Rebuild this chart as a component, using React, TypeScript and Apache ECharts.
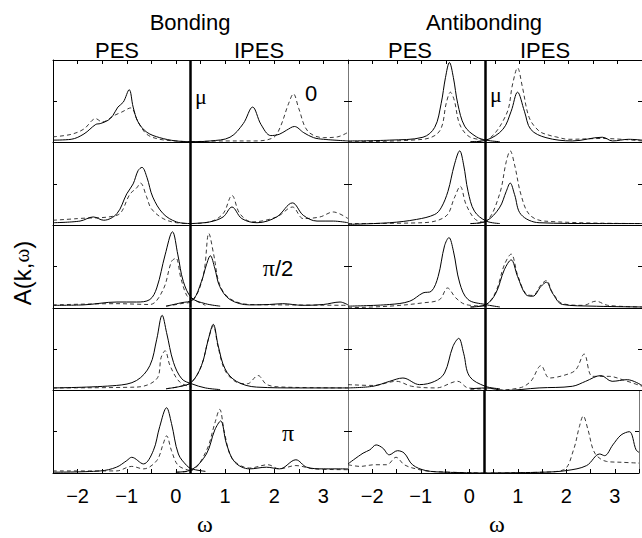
import React, { useEffect, useRef } from "react";
import * as echarts from "echarts";

// ---- axis settings ----
const X_MIN = -2.5;
const X_MAX = 3.5;
const X_STEP = 0.5;
const MU = 0.3;
const TICK_VALUES = [-2, -1, 0, 1, 2, 3];
const ROW_LABELS = ["0", "", "π/2", "", "π"];
const COLUMN_TITLES = ["Bonding", "Antibonding"];

// ---- Bonding, PES (solid / dashed), rows k = 0 ... π ----
const bondingPesSolid: number[][][] = [
  [[-2.5,0.03],[-2.13,0.04],[-1.87,0.105],[-1.63,0.22],[-1.54,0.23],[-1.38,0.27],[-1.28,0.33],[-1.18,0.43],[-1.07,0.49],[-0.95,0.64],[-0.87,0.43],[-0.77,0.25],[-0.59,0.125],[-0.33,0.06],[0.0,0.02],[0.3,0.01],[0.6,0.005]],
  [[-2.5,0.03],[-1.95,0.05],[-1.68,0.1],[-1.47,0.06],[-1.2,0.14],[-1.0,0.38],[-0.87,0.5],[-0.77,0.66],[-0.69,0.7],[-0.59,0.58],[-0.47,0.34],[-0.26,0.14],[0.01,0.04],[0.3,0.02]],
  [[-2.5,0.03],[-1.89,0.035],[-1.2,0.07],[-0.8,0.07],[-0.53,0.1],[-0.39,0.24],[-0.22,0.64],[-0.07,0.92],[0.04,0.64],[0.15,0.32],[0.32,0.12],[0.6,0.05],[0.9,0.02]],
  [[-2.5,0.03],[-1.21,0.06],[-0.8,0.12],[-0.53,0.3],[-0.39,0.62],[-0.28,0.91],[-0.19,0.7],[-0.05,0.34],[0.12,0.14],[0.32,0.08],[0.6,0.03],[0.9,0.01]],
  [[-2.5,0.01],[-1.54,0.025],[-1.21,0.07],[-1.0,0.15],[-0.9,0.19],[-0.66,0.11],[-0.46,0.27],[-0.33,0.56],[-0.19,0.79],[-0.09,0.6],[0.05,0.23],[0.22,0.09],[0.32,0.05],[0.6,0.02]],
];
const bondingPesDashed: number[][][] = [
  [[-2.5,0.07],[-2.13,0.1],[-1.87,0.165],[-1.63,0.29],[-1.5,0.25],[-1.25,0.33],[-1.1,0.37],[-0.92,0.42],[-0.77,0.25],[-0.59,0.1],[-0.33,0.04],[0.0,0.02],[0.3,0.01]],
  [[-2.5,0.06],[-2.0,0.08],[-1.2,0.12],[-0.93,0.38],[-0.8,0.45],[-0.72,0.51],[-0.6,0.35],[-0.5,0.2],[-0.26,0.08],[0.01,0.03],[0.3,0.02]],
  [[-2.5,0.035],[-1.2,0.05],[-0.53,0.04],[-0.26,0.22],[-0.09,0.56],[0.0,0.6],[0.1,0.36],[0.22,0.15],[0.32,0.11],[0.6,0.03]],
  [[-2.5,0.03],[-0.8,0.04],[-0.39,0.14],[-0.3,0.4],[-0.22,0.48],[-0.12,0.3],[0.08,0.1],[0.32,0.04]],
  [[-2.5,0.025],[-1.21,0.025],[-0.9,0.08],[-0.66,0.05],[-0.39,0.15],[-0.26,0.35],[-0.19,0.45],[-0.09,0.27],[0.05,0.09],[0.32,0.025]],
];
// ---- Bonding, IPES ----
const bondingIpesSolid: number[][][] = [
  [[0.3,0.01],[0.7,0.02],[1.1,0.065],[1.37,0.23],[1.56,0.43],[1.73,0.22],[1.93,0.085],[2.1,0.1],[2.25,0.15],[2.41,0.195],[2.6,0.12],[2.8,0.06],[3.0,0.04],[3.5,0.02]],
  [[0.3,0.02],[0.69,0.04],[0.96,0.1],[1.14,0.22],[1.34,0.08],[1.65,0.03],[2.05,0.1],[2.37,0.27],[2.59,0.12],[2.87,0.05],[3.2,0.05],[3.5,0.03]],
  [[-0.2,0.02],[0.1,0.06],[0.35,0.1],[0.52,0.32],[0.62,0.52],[0.7,0.63],[0.79,0.48],[0.89,0.26],[1.1,0.1],[1.5,0.035],[1.9,0.04],[2.17,0.05],[2.58,0.03],[3.0,0.04],[3.34,0.07],[3.5,0.035]],
  [[-0.2,0.02],[0.1,0.05],[0.32,0.1],[0.52,0.3],[0.66,0.62],[0.76,0.8],[0.86,0.54],[1.0,0.26],[1.23,0.11],[1.64,0.04],[2.5,0.03],[3.5,0.03]],
  [[0.0,0.01],[0.32,0.04],[0.62,0.23],[0.79,0.52],[0.91,0.63],[1.03,0.35],[1.2,0.13],[1.5,0.05],[1.84,0.07],[2.11,0.05],[2.44,0.16],[2.66,0.07],[3.0,0.05],[3.5,0.05]],
];
const bondingIpesDashed: number[][][] = [
  [[0.3,0.01],[1.0,0.02],[1.6,0.02],[1.98,0.06],[2.12,0.185],[2.29,0.47],[2.39,0.59],[2.5,0.41],[2.68,0.14],[3.0,0.06],[3.29,0.07],[3.5,0.125]],
  [[0.3,0.02],[0.69,0.04],[0.96,0.14],[1.14,0.36],[1.3,0.14],[1.55,0.04],[2.05,0.1],[2.37,0.22],[2.59,0.08],[2.93,0.1],[3.2,0.16],[3.5,0.08]],
  [[-0.2,0.02],[0.1,0.05],[0.35,0.09],[0.56,0.4],[0.67,0.9],[0.77,0.64],[0.89,0.28],[1.1,0.11],[1.5,0.04],[2.2,0.035],[3.5,0.03]],
  [[-0.2,0.02],[0.1,0.05],[0.32,0.1],[0.52,0.3],[0.66,0.62],[0.76,0.78],[0.86,0.52],[1.0,0.24],[1.23,0.1],[1.45,0.08],[1.67,0.18],[1.85,0.07],[2.2,0.04],[3.5,0.03]],
  [[0.0,0.01],[0.32,0.03],[0.62,0.27],[0.79,0.6],[0.89,0.77],[0.99,0.48],[1.15,0.17],[1.5,0.06],[1.87,0.1],[2.1,0.05],[2.44,0.09],[2.8,0.05],[3.5,0.04]],
];
// ---- Antibonding, PES ----
const antiPesSolid: number[][][] = [
  [[-2.5,0.02],[-1.65,0.03],[-0.97,0.065],[-0.73,0.185],[-0.6,0.47],[-0.51,0.79],[-0.43,0.97],[-0.35,0.79],[-0.26,0.47],[-0.12,0.2],[0.12,0.07],[0.32,0.03],[0.6,0.01]],
  [[-2.5,0.01],[-1.65,0.03],[-1.1,0.07],[-0.73,0.13],[-0.6,0.21],[-0.46,0.41],[-0.33,0.73],[-0.22,0.9],[-0.14,0.73],[-0.05,0.41],[0.08,0.17],[0.32,0.05],[0.6,0.02]],
  [[-2.5,0.02],[-1.65,0.04],[-1.24,0.08],[-0.97,0.18],[-0.8,0.2],[-0.66,0.38],[-0.53,0.75],[-0.44,0.85],[-0.35,0.69],[-0.22,0.3],[-0.05,0.1],[0.3,0.04],[0.6,0.01]],
  [[-2.5,0.03],[-1.99,0.05],[-1.65,0.11],[-1.38,0.15],[-1.04,0.07],[-0.73,0.11],[-0.53,0.21],[-0.36,0.53],[-0.24,0.63],[-0.14,0.45],[-0.02,0.17],[0.3,0.05],[0.6,0.02]],
  [[-2.5,0.11],[-2.19,0.24],[-2.05,0.28],[-1.92,0.34],[-1.78,0.3],[-1.65,0.22],[-1.48,0.27],[-1.34,0.24],[-1.17,0.1],[-0.9,0.03],[-0.5,0.01],[0.3,0.0]],
];
const antiPesDashed: number[][][] = [
  [[-2.5,0.01],[-0.97,0.04],[-0.63,0.14],[-0.49,0.49],[-0.41,0.61],[-0.33,0.51],[-0.22,0.22],[-0.02,0.07],[0.32,0.03]],
  [[-2.5,0.02],[-0.97,0.03],[-0.5,0.11],[-0.33,0.33],[-0.21,0.47],[-0.09,0.25],[0.1,0.07],[0.32,0.03]],
  [[-2.5,0.0],[-1.65,0.02],[-0.97,0.06],[-0.63,0.1],[-0.47,0.24],[-0.3,0.12],[-0.1,0.04],[0.3,0.02]],
  [[-2.5,0.07],[-1.99,0.06],[-1.51,0.11],[-1.2,0.05],[-0.7,0.03],[-0.26,0.11],[-0.05,0.03],[0.3,0.02]],
  [[-2.5,0.1],[-2.25,0.08],[-1.95,0.1],[-1.7,0.1],[-1.51,0.19],[-1.34,0.1],[-1.1,0.05],[-0.8,0.02],[0.3,0.0]],
];
// ---- Antibonding, IPES ----
const antiIpesSolid: number[][][] = [
  [[0.0,0.01],[0.32,0.03],[0.66,0.16],[0.83,0.38],[0.96,0.61],[1.1,0.38],[1.23,0.16],[1.54,0.06],[2.08,0.02],[2.69,0.065],[2.9,0.02],[3.23,0.04],[3.5,0.03]],
  [[0.0,0.02],[0.32,0.05],[0.59,0.21],[0.73,0.41],[0.81,0.51],[0.9,0.37],[1.03,0.13],[1.4,0.03],[2.56,0.02],[3.5,0.02]],
  [[0.0,0.01],[0.32,0.04],[0.52,0.18],[0.69,0.46],[0.83,0.58],[0.96,0.38],[1.13,0.16],[1.27,0.14],[1.44,0.26],[1.55,0.31],[1.67,0.18],[1.88,0.04],[2.5,0.02],[3.5,0.01]],
  [[0.0,0.02],[0.32,0.03],[0.7,0.0],[1.4,0.03],[2.08,0.05],[2.35,0.11],[2.66,0.18],[2.89,0.11],[3.2,0.13],[3.5,0.06]],
  [[0.3,0.0],[1.54,0.01],[2.01,0.03],[2.42,0.09],[2.69,0.23],[2.79,0.21],[2.96,0.34],[3.13,0.46],[3.3,0.5],[3.44,0.28],[3.5,0.25]],
];
const antiIpesDashed: number[][][] = [
  [[0.0,0.01],[0.32,0.03],[0.73,0.34],[0.86,0.71],[0.96,0.905],[1.06,0.67],[1.2,0.3],[1.4,0.14],[1.6,0.09],[1.74,0.07],[2.0,0.04],[2.69,0.05],[3.5,0.02]],
  [[0.0,0.02],[0.32,0.05],[0.59,0.37],[0.73,0.77],[0.81,0.9],[0.9,0.73],[1.03,0.37],[1.2,0.13],[1.5,0.05],[3.5,0.02]],
  [[0.0,0.01],[0.32,0.04],[0.52,0.2],[0.69,0.52],[0.83,0.65],[0.96,0.4],[1.13,0.17],[1.27,0.15],[1.44,0.28],[1.55,0.33],[1.67,0.19],[1.88,0.05],[2.3,0.03],[2.56,0.08],[2.8,0.03],[3.5,0.01]],
  [[0.0,0.01],[0.32,0.0],[1.0,0.03],[1.23,0.11],[1.44,0.3],[1.61,0.15],[1.95,0.19],[2.15,0.25],[2.32,0.44],[2.49,0.17],[2.83,0.17],[3.1,0.13],[3.5,0.05]],
  [[0.3,0.0],[1.5,0.01],[1.95,0.04],[2.15,0.28],[2.27,0.56],[2.35,0.69],[2.45,0.52],[2.59,0.24],[2.83,0.14],[3.13,0.13],[3.5,0.12]],
];

const SANS = "Liberation Sans, Arial, Helvetica, sans-serif";
const SERIF = "Liberation Serif, Times New Roman, serif";

export default function App() {
  const ref = useRef<HTMLDivElement>(null);
  useEffect(() => {
    if (!ref.current) return;
    const chart = echarts.init(ref.current, undefined, { renderer: "svg" });

    const COL_LEFT = [53, 348];
    const COL_W = 295;
    const TOP = 60;
    const ROW_H = 82.6;
    const NROWS = 5;

    const columns = [
      { pesS: bondingPesSolid, pesD: bondingPesDashed, ipS: bondingIpesSolid, ipD: bondingIpesDashed },
      { pesS: antiPesSolid, pesD: antiPesDashed, ipS: antiIpesSolid, ipD: antiIpesDashed },
    ];

    const fmt = (v: number) => {
      const r = Math.round(v);
      if (Math.abs(v - r) > 1e-6 || TICK_VALUES.indexOf(r) < 0) return "";
      return r < 0 ? "\u2212" + Math.abs(r) : String(r);
    };

    const grid: any[] = [];
    const xAxis: any[] = [];
    const yAxis: any[] = [];
    const series: any[] = [];

    for (let c = 0; c < 2; c++) {
      for (let r = 0; r < NROWS; r++) {
        const gi = grid.length;
        grid.push({ left: COL_LEFT[c], top: TOP + r * ROW_H, width: COL_W, height: ROW_H, containLabel: false });
        const xi = xAxis.length;
        xAxis.push({
          gridIndex: gi, type: "value", min: X_MIN, max: X_MAX, interval: X_STEP, position: "bottom",
          axisLine: { show: true, onZero: false, lineStyle: { color: "#000", width: 1 } },
          axisTick: { show: r === NROWS - 1, inside: true, length: 4, lineStyle: { color: "#000" } },
          axisLabel: { show: r === NROWS - 1, formatter: fmt, margin: 13, fontSize: 20, color: "#000", fontFamily: SANS, showMinLabel: true, showMaxLabel: true },
          splitLine: { show: false },
        });
        if (r === 0) {
          xAxis.push({
            gridIndex: gi, type: "value", min: X_MIN, max: X_MAX, interval: X_STEP, position: "top",
            axisLine: { show: true, onZero: false, lineStyle: { color: "#000", width: 1 } },
            axisTick: { show: true, inside: true, length: 4, lineStyle: { color: "#000" } },
            axisLabel: { show: false }, splitLine: { show: false },
          });
        }
        const yi = yAxis.length;
        yAxis.push({
          gridIndex: gi, type: "value", min: 0, max: 1, interval: 0.5, position: "left",
          axisLine: { show: true, onZero: false, lineStyle: { color: c === 0 ? "#000" : "#777", width: 1 } },
          axisTick: { show: true, inside: true, length: 4, lineStyle: { color: "#000" } },
          axisLabel: { show: false }, splitLine: { show: false },
        });
        yAxis.push({
          gridIndex: gi, type: "value", min: 0, max: 1, interval: 0.5, position: "right",
          axisLine: { show: true, onZero: false, lineStyle: { color: "#777", width: 1 } },
          axisTick: { show: true, inside: true, length: 4, lineStyle: { color: "#000" } },
          axisLabel: { show: false }, splitLine: { show: false },
        });
        const col = columns[c];
        const mk = (data: number[][], dashed: boolean, withMu: boolean) => {
          const s: any = {
            type: "line", xAxisIndex: xi, yAxisIndex: yi, data, showSymbol: false, symbol: "none",
            smooth: 0.35, silent: true,
            lineStyle: { color: dashed ? "#222" : "#000", width: dashed ? 0.9 : 1, type: dashed ? [4, 3] : "solid" },
          };
          if (withMu) {
            s.markLine = {
              silent: true, symbol: ["none", "none"], label: { show: false },
              lineStyle: { color: "#000", width: 2.5, type: "solid" },
              data: [{ xAxis: MU }],
            };
          }
          return s;
        };
        series.push(mk(col.pesD[r], true, false));
        series.push(mk(col.ipD[r], true, false));
        series.push(mk(col.pesS[r], false, false));
        series.push(mk(col.ipS[r], false, true));
      }
    }

    const txt = (x: number, y: number, text: string, size: number, family = SANS, rotation = 0, rich?: any) => ({
      type: "text", x, y, rotation,
      style: { text, fontSize: size, fontFamily: family, fill: "#000", align: "center", verticalAlign: "middle", rich },
    });

    const graphic: any[] = [
      txt(190, 22, COLUMN_TITLES[0], 22),
      txt(484, 22, COLUMN_TITLES[1], 22),
      txt(117, 50, "PES", 22),
      txt(259, 50, "IPES", 22),
      txt(410, 50, "PES", 22),
      txt(545, 50, "IPES", 22),
      txt(22, 273, "{s|A(k,}{g|ω}{s|)}", 24, SANS, Math.PI / 2, {
        s: { fontSize: 24, fontFamily: SANS, fill: "#000" },
        g: { fontSize: 21, fontFamily: SERIF, fill: "#000" },
      }),
      txt(205, 524, "ω", 24, SERIF),
      txt(497, 524, "ω", 24, SERIF),
      txt(201, 96, "μ", 22, SERIF),
      txt(496, 94, "μ", 22, SERIF),
      txt(311, 93, ROW_LABELS[0], 22),
      txt(278, 268, "{g|π}{s|/2}", 22, SANS, 0, {
        g: { fontSize: 24, fontFamily: SERIF, fill: "#000" },
        s: { fontSize: 22, fontFamily: SANS, fill: "#000" },
      }),
      txt(288, 433, ROW_LABELS[4], 24, SERIF),
    ];

    chart.setOption({
      animation: false,
      backgroundColor: "#fff",
      grid, xAxis, yAxis, series, graphic,
    });
    return () => chart.dispose();
  }, []);

  return <div ref={ref} style={{ position: "fixed", left: 0, top: 0, width: 642, height: 538, background: "#fff" }} />;
}
